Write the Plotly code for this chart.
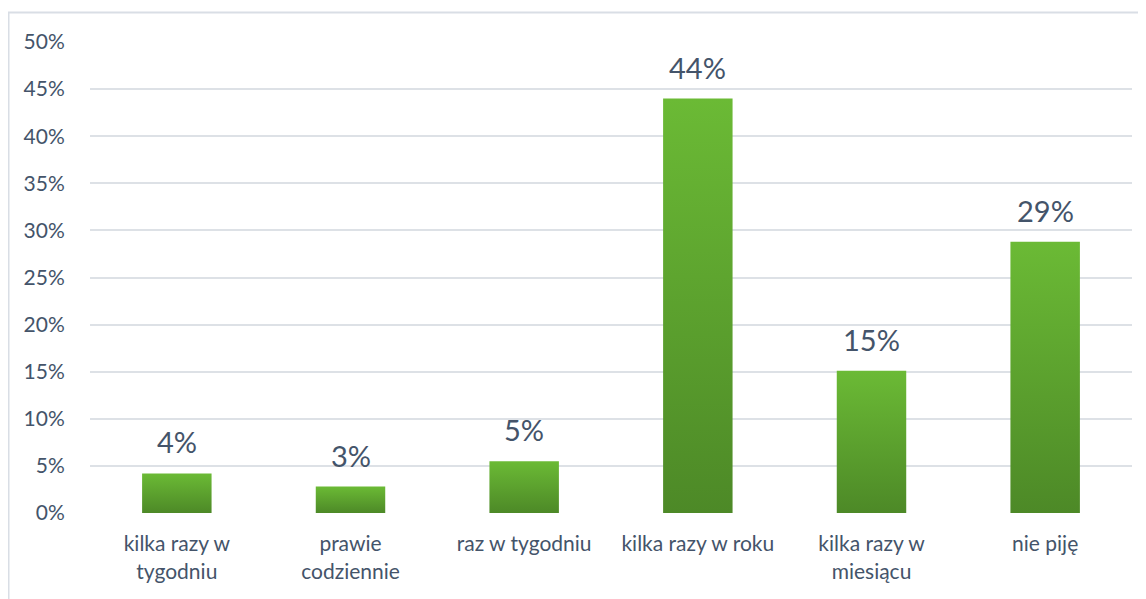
import plotly.graph_objects as go

categories = ["kilka razy w<br>tygodniu", "prawie<br>codziennie", "raz w tygodniu",
              "kilka razy w roku", "kilka razy w<br>miesiącu", "nie piję"]
values = [0.042, 0.028, 0.055, 0.440, 0.151, 0.288]
value_labels = ["4%", "3%", "5%", "44%", "15%", "29%"]
y_tickvals = [0, 0.05, 0.10, 0.15, 0.20, 0.25, 0.30, 0.35, 0.40, 0.45, 0.50]

TEXT = "#44546a"
FONT = "Lato"
BAR_W = 0.4

fig = go.Figure()
for i, v in enumerate(values):
    x0, x1 = i - BAR_W / 2, i + BAR_W / 2
    fig.add_trace(go.Scatter(
        x=[x0, x1, x1, x0, x0], y=[0, 0, v, v, 0],
        mode="lines", fill="toself", line=dict(width=0),
        fillgradient=dict(type="vertical",
                          colorscale=[[0, "#4d8927"], [1, "#6bba35"]]),
        hoverinfo="skip", showlegend=False,
    ))

annotations = [
    dict(x=i, y=v, xref="x", yref="y", text=lab, showarrow=False,
         yanchor="bottom", yshift=12,
         font=dict(family=FONT, size=29, color=TEXT))
    for i, (v, lab) in enumerate(zip(values, value_labels))
]

# page body has an 8px margin; size the figure so it fits the window
fig.update_layout(
    width=1138, height=591,
    margin=dict(l=82, r=14, t=34, b=86),
    paper_bgcolor="white", plot_bgcolor="white",
    font=dict(family=FONT, color=TEXT),
    xaxis=dict(
        range=[-0.5, len(values) - 0.5],
        tickvals=list(range(len(values))), ticktext=categories,
        tickfont=dict(family=FONT, size=21, color=TEXT),
        showgrid=False, zeroline=False, showline=False,
        ticks="outside", ticklen=12, tickcolor="rgba(0,0,0,0)",
    ),
    yaxis=dict(
        range=[0, 0.5], tickvals=y_tickvals, tickformat=".0%",
        tickfont=dict(family=FONT, size=21, color=TEXT),
        showgrid=True, gridcolor="#dde1e6", gridwidth=2,
        zeroline=False, showline=False,
        ticks="outside", ticklen=20, tickcolor="rgba(0,0,0,0)",
    ),
    annotations=annotations,
    shapes=[dict(type="rect", xref="paper", yref="paper",
                 x0=-0.0782, x1=1.1, y0=-0.3, y1=1.0626,
                 line=dict(color="#d9dee5", width=2), fillcolor="rgba(0,0,0,0)",
                 layer="below")],
)

fig.write_html("out.html")
